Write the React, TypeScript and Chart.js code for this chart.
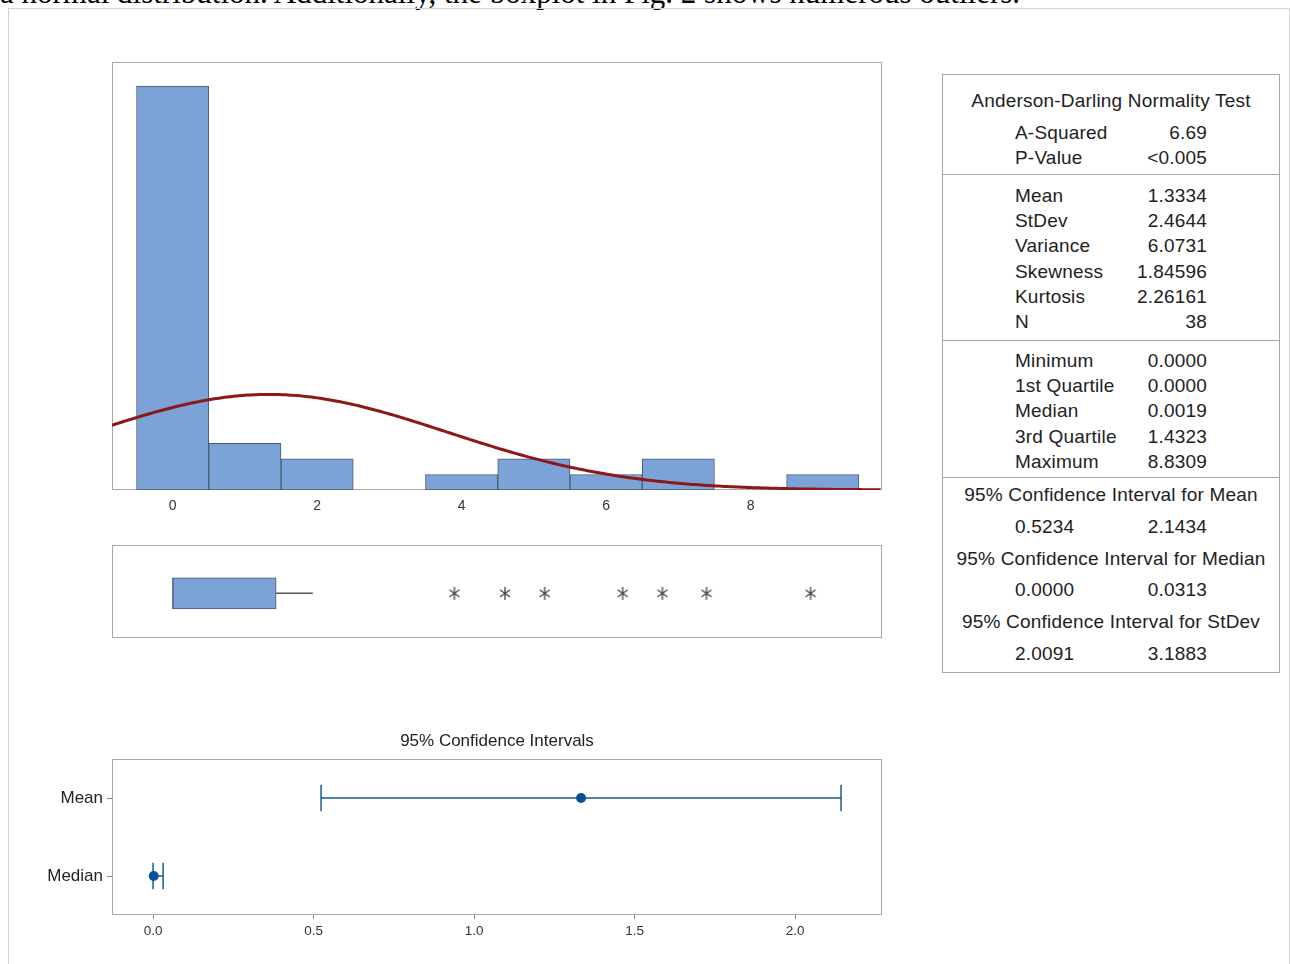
import React, { useEffect, useRef } from 'react';
import { Chart, registerables } from 'chart.js';

Chart.register(...registerables);

const FONT = '"Liberation Sans", Arial, Helvetica, sans-serif';
Chart.defaults.font.family = FONT;
Chart.defaults.color = '#333333';

// ---- Histogram (bin width 1, bins centred on integers) ----
const binCenters = [0, 1, 2, 3, 4, 5, 6, 7, 8, 9];
const binCounts = [26, 3, 2, 0, 1, 2, 1, 2, 0, 1];
const histTickValues = [0, 2, 4, 6, 8];

// ---- Sample statistics ----
const sampleN = 38;
const sampleMean = 1.3334;
const sampleStDev = 2.4644;

// ---- Box plot ----
const boxQ1 = 0.0;
const boxMedian = 0.0019;
const boxQ3 = 1.4323;
const whiskerHigh = 1.94;
const outlierValues = [3.9, 4.6, 5.15, 6.23, 6.78, 7.39, 8.8309];

// ---- 95% confidence intervals ----
const ciLabels = ['Mean', 'Median'];
const ciEstimate = [1.3334, 0.0019];
const ciLower = [0.5234, 0.0];
const ciUpper = [2.1434, 0.0313];
const ciTickValues = [0, 0.5, 1.0, 1.5, 2.0];

// ---- Summary table ----
const adTitle = 'Anderson-Darling Normality Test';
const adRows = [
  ['A-Squared', '6.69'],
  ['P-Value', '<0.005'],
];
const momentRows = [
  ['Mean', '1.3334'],
  ['StDev', '2.4644'],
  ['Variance', '6.0731'],
  ['Skewness', '1.84596'],
  ['Kurtosis', '2.26161'],
  ['N', '38'],
];
const quantileRows = [
  ['Minimum', '0.0000'],
  ['1st Quartile', '0.0000'],
  ['Median', '0.0019'],
  ['3rd Quartile', '1.4323'],
  ['Maximum', '8.8309'],
];
const intervalRows = [
  ['95% Confidence Interval for Mean', '0.5234', '2.1434'],
  ['95% Confidence Interval for Median', '0.0000', '0.0313'],
  ['95% Confidence Interval for StDev', '2.0091', '3.1883'],
];

const leadText =
  'a normal distribution. Additionally, the boxplot in Fig. 2 shows numerous outliers.';

// Shared value range of the histogram and box plot panels
const HIST_MIN = -0.84;
const HIST_MAX = 9.82;
const CI_MIN = -0.128;
const CI_MAX = 2.271;

const BAR_FILL = '#7ba3d8';
const BAR_EDGE = '#4a5a6e';
const FRAME = '#a8a8a8';

// Fitted normal density, scaled to the histogram counts
function normalCurve() {
  const pts: { x: number; y: number }[] = [];
  const binWidth = binCenters[1] - binCenters[0];
  const k = (sampleN * binWidth) / (sampleStDev * Math.sqrt(2 * Math.PI));
  for (let x = HIST_MIN; x <= HIST_MAX + 1e-9; x += 0.04) {
    const z = (x - sampleMean) / sampleStDev;
    pts.push({ x, y: k * Math.exp(-0.5 * z * z) });
  }
  return pts;
}

function framePlugin(id: string) {
  return {
    id,
    beforeDatasetsDraw(chart: any) {
      const { ctx, chartArea } = chart;
      const l = Math.round(chartArea.left) + 0.5;
      const t = Math.round(chartArea.top) + 0.5;
      const r = Math.round(chartArea.right) - 0.5;
      const b = Math.round(chartArea.bottom) - 0.5;
      ctx.save();
      ctx.strokeStyle = FRAME;
      ctx.lineWidth = 1;
      ctx.strokeRect(l, t, r - l, b - t);
      ctx.restore();
    },
  };
}

function makeAsterisk(): HTMLCanvasElement {
  const c = document.createElement('canvas');
  c.width = 14;
  c.height = 15;
  const g = c.getContext('2d')!;
  g.strokeStyle = '#444444';
  g.lineWidth = 1.3;
  g.beginPath();
  g.moveTo(7, 1);
  g.lineTo(7, 14);
  g.moveTo(2, 4);
  g.lineTo(12, 11);
  g.moveTo(2, 11);
  g.lineTo(12, 4);
  g.stroke();
  return c;
}

function HistogramPanel() {
  const ref = useRef<HTMLCanvasElement>(null);
  useEffect(() => {
    const chart = new Chart(ref.current!, {
      type: 'bar',
      data: {
        datasets: [
          {
            type: 'line',
            data: normalCurve(),
            borderColor: '#8c1818',
            borderWidth: 3,
            pointRadius: 0,
            tension: 0,
            order: 0,
          } as any,
          {
            type: 'bar',
            data: binCenters.map((c, i) => ({ x: c, y: binCounts[i] })),
            backgroundColor: BAR_FILL,
            borderColor: BAR_EDGE,
            borderWidth: 1,
            borderSkipped: false,
            barPercentage: 1,
            categoryPercentage: 1,
            order: 1,
          } as any,
        ],
      },
      options: {
        animation: false,
        responsive: false,
        layout: { padding: { left: 12, right: 18, top: 12, bottom: 0 } },
        plugins: { legend: { display: false }, tooltip: { enabled: false } },
        scales: {
          x: {
            type: 'linear',
            min: HIST_MIN,
            max: HIST_MAX,
            offset: false,
            grid: { display: false, drawTicks: false, offset: false },
            border: { display: false },
            afterBuildTicks: (scale: any) => {
              scale.ticks = histTickValues.map((v) => ({ value: v }));
            },
            afterFit: (scale: any) => {
              scale.height = 40;
            },
            ticks: {
              padding: 8,
              maxRotation: 0,
              font: { size: 14 },
              color: '#333',
              callback: (v: any) => String(v),
            },
          },
          y: {
            type: 'linear',
            min: 0,
            max: 27.55,
            display: false,
            offset: false,
          },
        },
      } as any,
      plugins: [framePlugin('histFrame')],
    });
    return () => chart.destroy();
  }, []);
  return (
    <canvas
      ref={ref}
      width={800}
      height={480}
      style={{ position: 'absolute', left: 100, top: 50, width: 800, height: 480 }}
    />
  );
}

function BoxPanel() {
  const ref = useRef<HTMLCanvasElement>(null);
  useEffect(() => {
    const star = makeAsterisk();
    const chart = new Chart(ref.current!, {
      type: 'scatter',
      data: {
        datasets: [
          {
            type: 'scatter',
            data: outlierValues.map((v) => ({ x: v, y: 0 })),
            pointStyle: star,
            pointRadius: 7,
            order: 0,
          } as any,
          {
            type: 'line',
            data: [
              { x: boxQ3, y: 0 },
              { x: whiskerHigh, y: 0 },
            ],
            borderColor: '#555555',
            borderWidth: 1.5,
            pointRadius: 0,
            order: 1,
          } as any,
          {
            type: 'line',
            data: [
              { x: boxMedian, y: -0.5 },
              { x: boxMedian, y: 0.5 },
            ],
            borderColor: BAR_EDGE,
            borderWidth: 1,
            pointRadius: 0,
            order: 2,
          } as any,
          {
            type: 'bar',
            indexAxis: 'y',
            data: [{ x: [boxQ1, boxQ3], y: 0 }],
            backgroundColor: BAR_FILL,
            borderColor: BAR_EDGE,
            borderWidth: 1,
            borderSkipped: false,
            barThickness: 31,
            order: 3,
          } as any,
        ],
      },
      options: {
        animation: false,
        responsive: false,
        layout: { padding: { left: 12, right: 18, top: 10, bottom: 10 } },
        plugins: { legend: { display: false }, tooltip: { enabled: false } },
        scales: {
          x: { type: 'linear', min: HIST_MIN, max: HIST_MAX, display: false, offset: false },
          y: { type: 'linear', min: -1.44, max: 1.56, display: false, offset: false },
        },
      } as any,
      plugins: [framePlugin('boxFrame')],
    });
    return () => chart.destroy();
  }, []);
  return (
    <canvas
      ref={ref}
      width={800}
      height={113}
      style={{ position: 'absolute', left: 100, top: 535, width: 800, height: 113 }}
    />
  );
}

const CAP = 0.17; // half-height of interval end caps, in row units

function IntervalPanel() {
  const ref = useRef<HTMLCanvasElement>(null);
  useEffect(() => {
    const rowY = (i: number) => i + 0.5;
    const intervalSets = ciLabels.map((_, i) => ({
      type: 'line',
      data: [
        { x: ciLower[i], y: rowY(i) - CAP },
        { x: ciLower[i], y: rowY(i) + CAP },
        { x: ciLower[i], y: rowY(i) },
        { x: ciUpper[i], y: rowY(i) },
        { x: ciUpper[i], y: rowY(i) - CAP },
        { x: ciUpper[i], y: rowY(i) + CAP },
      ],
      borderColor: '#1d5a94',
      borderWidth: 1.5,
      pointRadius: 0,
      tension: 0,
      order: 1,
    }));
    const chart = new Chart(ref.current!, {
      type: 'scatter',
      data: {
        datasets: [
          {
            type: 'scatter',
            data: ciEstimate.map((v, i) => ({ x: v, y: rowY(i) })),
            pointRadius: 5,
            backgroundColor: '#0b4f98',
            borderWidth: 0,
            order: 0,
          } as any,
          ...(intervalSets as any[]),
        ],
      },
      options: {
        animation: false,
        responsive: false,
        layout: { padding: { left: 0, right: 18, top: 39, bottom: 0 } },
        plugins: { legend: { display: false }, tooltip: { enabled: false } },
        scales: {
          x: {
            type: 'linear',
            min: CI_MIN,
            max: CI_MAX,
            offset: false,
            border: { display: false },
            grid: { drawOnChartArea: false, drawTicks: true, tickLength: 4, color: '#8a8a8a' },
            afterBuildTicks: (scale: any) => {
              scale.ticks = ciTickValues.map((v) => ({ value: v }));
            },
            afterFit: (scale: any) => {
              scale.height = 35;
            },
            ticks: {
              padding: 4,
              maxRotation: 0,
              font: { size: 13.5 },
              color: '#333',
              callback: (v: any) => Number(v).toFixed(1),
            },
          },
          y: {
            type: 'linear',
            min: 0,
            max: ciLabels.length,
            reverse: true,
            offset: false,
            border: { display: false },
            grid: { drawOnChartArea: false, drawTicks: true, tickLength: 5, color: '#8a8a8a' },
            afterBuildTicks: (scale: any) => {
              scale.ticks = ciLabels.map((_, i) => ({ value: rowY(i) }));
            },
            afterFit: (scale: any) => {
              scale.width = 92;
            },
            ticks: {
              padding: 4,
              font: { size: 17 },
              color: '#222',
              callback: (_v: any, index: number) => ciLabels[index],
            },
          },
        },
      } as any,
      plugins: [
        framePlugin('ciFrame'),
        {
          id: 'ciTitle',
          afterDraw(c: any) {
            const { ctx, chartArea } = c;
            ctx.save();
            ctx.font = `17px ${FONT}`;
            ctx.fillStyle = '#222';
            ctx.textAlign = 'center';
            ctx.textBaseline = 'middle';
            ctx.fillText('95% Confidence Intervals', (chartArea.left + chartArea.right) / 2, chartArea.top - 18);
            ctx.restore();
          },
        },
      ],
    });
    return () => chart.destroy();
  }, []);
  return (
    <canvas
      ref={ref}
      width={880}
      height={230}
      style={{ position: 'absolute', left: 20, top: 720, width: 880, height: 230 }}
    />
  );
}

const cellText: React.CSSProperties = {
  fontFamily: FONT,
  fontSize: 19,
  letterSpacing: '0.2px',
  color: '#222',
  whiteSpace: 'nowrap',
};

function PairRow({ a, b, h }: { a: string; b: string; h: number }) {
  return (
    <div style={{ position: 'relative', height: h, lineHeight: `${h}px`, ...cellText }}>
      <span style={{ position: 'absolute', left: 72 }}>{a}</span>
      <span style={{ position: 'absolute', right: 72 }}>{b}</span>
    </div>
  );
}

function CenterRow({ text, h }: { text: string; h: number }) {
  return (
    <div style={{ height: h, lineHeight: `${h}px`, textAlign: 'center', ...cellText }}>{text}</div>
  );
}

function SummaryTable() {
  const sep = '1px solid #a8a8a8';
  return (
    <div
      style={{
        position: 'absolute',
        left: 942,
        top: 74,
        width: 336,
        height: 597,
        border: sep,
        background: '#fff',
      }}
    >
      <div style={{ height: 100, borderBottom: sep, boxSizing: 'border-box', paddingTop: 12.5 }}>
        <CenterRow text={adTitle} h={25} />
        <div style={{ height: 7 }} />
        {adRows.map(([a, b]) => (
          <PairRow key={a} a={a} b={b} h={25} />
        ))}
      </div>
      <div style={{ height: 166, borderBottom: sep, boxSizing: 'border-box', paddingTop: 7.5 }}>
        {momentRows.map(([a, b]) => (
          <PairRow key={a} a={a} b={b} h={25.4} />
        ))}
      </div>
      <div style={{ height: 137, borderBottom: sep, boxSizing: 'border-box', paddingTop: 6.5 }}>
        {quantileRows.map(([a, b]) => (
          <PairRow key={a} a={a} b={b} h={25.4} />
        ))}
      </div>
      <div style={{ paddingTop: 1 }}>
        {intervalRows.map(([t, lo, hi]) => (
          <React.Fragment key={t}>
            <CenterRow text={t} h={31.8} />
            <PairRow a={lo} b={hi} h={31.8} />
          </React.Fragment>
        ))}
      </div>
    </div>
  );
}

export default function App() {
  return (
    <div style={{ position: 'relative', width: 1290, height: 964, overflow: 'hidden', background: '#fff' }}>
      <style>{'html,body{margin:0;padding:0;overflow:hidden;background:#fff}'}</style>
      <div
        style={{
          position: 'absolute',
          left: 0,
          top: -20,
          fontFamily: '"Liberation Serif", "Times New Roman", serif',
          fontSize: 31,
          lineHeight: '25px',
          color: '#000',
          whiteSpace: 'nowrap',
        }}
      >
        {leadText}
      </div>
      <div
        style={{
          position: 'absolute',
          left: 8,
          top: 8,
          width: 1280,
          height: 1000,
          border: '1px solid #d2d2d2',
        }}
      />
      <HistogramPanel />
      <BoxPanel />
      <IntervalPanel />
      <SummaryTable />
    </div>
  );
}
